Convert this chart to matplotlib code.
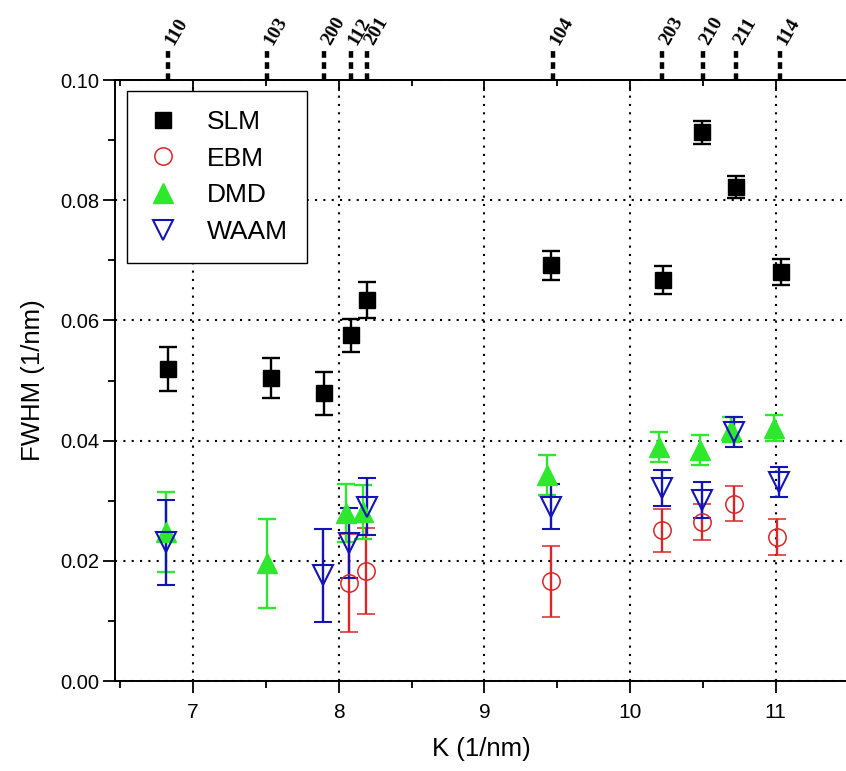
import numpy as np
import matplotlib
matplotlib.use("Agg")
import matplotlib.pyplot as plt
from matplotlib.lines import Line2D

# data: K (1/nm), FWHM (1/nm), error
k_slm = [6.83, 7.535, 7.90, 8.085, 8.195, 9.457, 10.226, 10.494, 10.727, 11.036]
fwhm_slm = [0.0519, 0.0504, 0.0479, 0.0575, 0.0634, 0.0692, 0.0667, 0.0913, 0.0822, 0.0681]
err_slm = [0.0037, 0.0033, 0.0036, 0.0028, 0.0030, 0.0024, 0.0023, 0.0019, 0.0019, 0.0022]

k_ebm = [8.07, 8.187, 9.457, 10.22, 10.494, 10.713, 11.008]
fwhm_ebm = [0.0163, 0.0183, 0.0166, 0.0251, 0.0265, 0.0295, 0.0240]
err_ebm = [0.0082, 0.0071, 0.0059, 0.0036, 0.0030, 0.0029, 0.0030]

k_dmd = [6.815, 7.51, 8.05, 8.167, 9.43, 10.2, 10.48, 10.69, 10.99]
fwhm_dmd = [0.0248, 0.0196, 0.0279, 0.0281, 0.0343, 0.0390, 0.0385, 0.0418, 0.0421]
err_dmd = [0.0066, 0.0074, 0.0048, 0.0045, 0.0033, 0.0025, 0.0025, 0.0021, 0.0021]

k_waam = [6.815, 7.89, 8.07, 8.195, 9.457, 10.22, 10.494, 10.713, 11.02]
fwhm_waam = [0.0231, 0.0176, 0.0230, 0.0290, 0.0290, 0.0321, 0.0301, 0.0414, 0.0331]
err_waam = [0.0071, 0.0077, 0.0058, 0.0047, 0.0037, 0.0030, 0.0030, 0.0025, 0.0025]

# reflections marked on the top axis
hkl_labels = ['110', '103', '200', '112', '201', '104', '203', '210', '211', '114']
hkl_k = [6.83, 7.51, 7.90, 8.085, 8.195, 9.47, 10.22, 10.50, 10.73, 11.03]

plt.rcParams['font.family'] = ['Liberation Sans', 'DejaVu Sans']

fig = plt.figure(figsize=(8.46, 7.71), dpi=100)
ax = fig.add_axes([0.136, 0.1167, 0.867, 0.7795])

red = '#d92628'
green = '#2ee82e'
blue = '#1414b4'

common = dict(linestyle='none', capsize=6.5, elinewidth=1.7, capthick=1.7)
ax.errorbar(k_slm, fwhm_slm, yerr=err_slm, fmt='s', color='black', ms=11, **common)
ax.errorbar(k_ebm, fwhm_ebm, yerr=err_ebm, fmt='o', color=red, mfc='none', mec=red, ms=12.5,
            mew=1.1, **common)
ax.errorbar(k_dmd, fwhm_dmd, yerr=err_dmd, fmt='^', color=green, ms=15, **common)
ax.errorbar(k_waam, fwhm_waam, yerr=err_waam, fmt='v', color=blue, mfc='none', mec=blue, ms=15,
            mew=1.5, **common)

ax.set_xlim(6.465, 11.5)
ax.set_ylim(0, 0.10)
ax.set_xticks([7, 8, 9, 10, 11])
ax.set_xticks(np.arange(6.5, 11.6, 0.5), minor=True)
ax.set_yticks(np.arange(0, 0.101, 0.02))
ax.set_yticks(np.arange(0, 0.101, 0.01), minor=True)
ax.yaxis.set_major_formatter(matplotlib.ticker.FormatStrFormatter('%.2f'))

ax.grid(True, which='major', color='black', linestyle=(0, (1, 3)), linewidth=1.5)
ax.tick_params(which='major', direction='out', length=8.5, width=1.3, labelsize=14.5, pad=3)
ax.tick_params(axis='x', which='major', labelsize=15, pad=7)
ax.tick_params(which='minor', direction='out', length=5, width=1.3)
for side in ['left', 'bottom', 'top']:
    ax.spines[side].set_linewidth(1.4)
ax.spines['right'].set_visible(False)

top = ax.secondary_xaxis('top')
top.set_xticks([7, 8, 9, 10, 11])
top.set_xticks(np.arange(6.5, 11.6, 0.5), minor=True)
top.tick_params(which='major', direction='in', length=8, width=1.3, labeltop=False)
top.tick_params(which='minor', direction='in', length=4.5, width=1.3)
top.spines['top'].set_linewidth(1.4)

trans = ax.get_xaxis_transform()
for lab, kk in zip(hkl_labels, hkl_k):
    ax.plot([kk, kk], [1.0, 1.055], transform=trans, clip_on=False, color='black',
            linewidth=3.2, linestyle=(0, (1.5, 1.0)), solid_capstyle='butt')
    ax.text(kk + 0.012, 1.06, lab, transform=trans, rotation=60, rotation_mode='anchor',
            ha='left', va='center', fontsize=14, fontweight='bold', family='Liberation Serif')

ax.set_xlabel('K (1/nm)', fontsize=18.5, labelpad=11)
ax.set_ylabel('FWHM (1/nm)', fontsize=18.5, labelpad=11)

handles = [
    Line2D([], [], linestyle='none', marker='s', color='black', ms=11),
    Line2D([], [], linestyle='none', marker='o', mfc='none', mec=red, mew=1.1, ms=12.5),
    Line2D([], [], linestyle='none', marker='^', color=green, ms=15),
    Line2D([], [], linestyle='none', marker='v', mfc='none', mec=blue, mew=1.5, ms=15),
]
leg = ax.legend(handles, ['SLM', 'EBM', 'DMD', 'WAAM'], loc='upper left',
                bbox_to_anchor=(0.016, 0.982), borderaxespad=0, fontsize=19,
                frameon=True, fancybox=False, framealpha=1, edgecolor='black',
                labelspacing=0.485, handletextpad=1.02, borderpad=0.72, handlelength=1.29)
leg.get_frame().set_linewidth(1.0)

fig.savefig('out.png', dpi=100)
